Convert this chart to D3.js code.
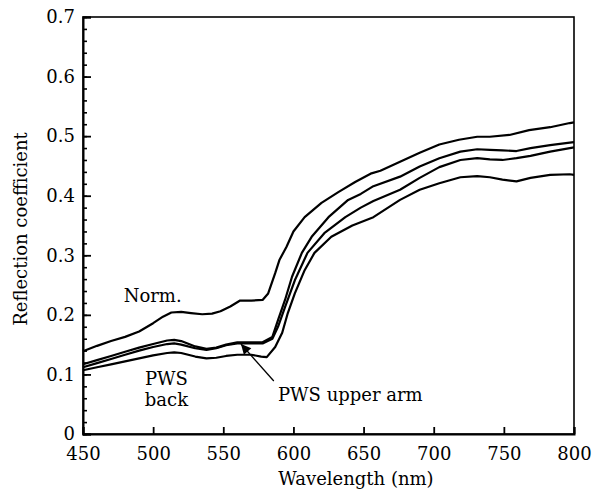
<!DOCTYPE html>
<html>
<head>
<meta charset="utf-8">
<script src="https://cdn.jsdelivr.net/npm/d3@7"></script>
<style>
body{margin:0;background:#fff;}
text{font-family:"DejaVu Serif",serif;fill:#000;}
</style>
</head>
<body>
<svg id="chart" width="595" height="493"></svg>
<script>
// spectra
var normX=[450,460,470,480,490,500,507,513,520,527,535,542,548,555,562,570,578,582,587,590,595,600,608,620,632,644,655,662,676,690,704,718,731,740,754,768,783,797,800];
var normY=[0.139,0.148,0.156,0.163,0.172,0.186,0.197,0.204,0.205,0.203,0.201,0.202,0.206,0.214,0.224,0.224,0.225,0.236,0.27,0.292,0.314,0.34,0.364,0.388,0.406,0.423,0.437,0.442,0.457,0.472,0.486,0.494,0.499,0.499,0.502,0.51,0.515,0.522,0.523];

var pwsAX=[450,460,470,480,490,500,510,515,520,530,538,545,552,560,570,578,585,589,594,599,606,613,625,639,648,657,676,690,704,719,731,740,749,759,769,783,797,800];
var pwsAY=[0.117,0.124,0.131,0.138,0.145,0.151,0.157,0.158,0.156,0.147,0.143,0.145,0.150,0.154,0.154,0.154,0.163,0.191,0.225,0.264,0.304,0.331,0.364,0.393,0.403,0.416,0.432,0.449,0.463,0.474,0.478,0.477,0.476,0.475,0.480,0.485,0.489,0.490];

var pwsBX=[450,460,470,480,490,500,510,515,520,530,538,545,552,560,570,578,585,589,594,601,610,622,637,648,657,676,690,704,719,731,740,749,759,769,783,797,800];
var pwsBY=[0.112,0.119,0.126,0.133,0.140,0.146,0.151,0.152,0.150,0.144,0.141,0.144,0.149,0.152,0.152,0.152,0.160,0.180,0.213,0.258,0.304,0.337,0.364,0.380,0.391,0.410,0.430,0.448,0.460,0.463,0.461,0.460,0.463,0.467,0.474,0.480,0.481];

var pwsCX=[450,460,470,480,490,500,510,515,520,530,538,545,552,560,570,577,581,587,592,596,601,608,615,627,642,657,676,690,704,719,731,740,749,759,769,783,797,800];
var pwsCY=[0.107,0.112,0.117,0.122,0.127,0.132,0.136,0.137,0.136,0.130,0.127,0.128,0.131,0.133,0.133,0.130,0.129,0.146,0.170,0.203,0.236,0.275,0.304,0.331,0.350,0.364,0.393,0.410,0.421,0.431,0.433,0.431,0.427,0.424,0.430,0.435,0.436,0.435];

var xTicks=[450,500,550,600,650,700,750,800];
var yTicks=[0,0.1,0.2,0.3,0.4,0.5,0.6,0.7];

var svg=d3.select('#chart');
var margin={left:83,top:17,right:21,bottom:59};
var width=595-margin.left-margin.right;
var height=493-margin.top-margin.bottom;
var g=svg.append('g').attr('transform',`translate(${margin.left},${margin.top})`);

var x=d3.scaleLinear().domain([450,800]).range([0,width]);
var y=d3.scaleLinear().domain([0,0.7]).range([height,0]);

// frame
g.append('rect').attr('width',width).attr('height',height)
    .attr('fill','none').attr('stroke','#000').attr('stroke-width',1.6);

// minor y ticks
g.append('g').call(d3.axisLeft(y).tickValues(d3.range(0,0.7001,0.02)).tickSize(-4).tickFormat(''))
    .call(a=>a.select('.domain').remove())
    .selectAll('line').attr('stroke','#000').attr('stroke-width',1.6);

var yAxis=g.append('g').call(d3.axisLeft(y).tickValues(yTicks).tickSize(-8).tickPadding(8)
    .tickFormat(d=>d===0?'0':d3.format('.1f')(d)));
yAxis.select('.domain').attr('stroke-width',2);
yAxis.selectAll('line').attr('stroke-width',1.8);
yAxis.selectAll('text').style('font-size','18px').style('font-family','DejaVu Serif');

var xAxis=g.append('g').attr('transform',`translate(0,${height})`)
    .call(d3.axisBottom(x).tickValues(xTicks).tickSize(-7).tickPadding(13));
xAxis.select('.domain').attr('stroke-width',2);
xAxis.selectAll('line').attr('stroke-width',1.8);
xAxis.selectAll('text').style('font-size','18px').style('font-family','DejaVu Serif');

// curves
var line=d3.line().x(d=>x(d[0])).y(d=>y(d[1]));
[[normX,normY],[pwsAX,pwsAY],[pwsBX,pwsBY],[pwsCX,pwsCY]].forEach(function(s) {
    g.append('path').datum(d3.zip(s[0],s[1])).attr('d',line)
        .attr('fill','none').attr('stroke','#000').attr('stroke-width',2.2)
        .attr('stroke-linejoin','round');
});

// labels
g.append('text').attr('x',x(479)).attr('y',y(0.222)).style('font-size','18px').text('Norm.');
g.append('text').attr('x',x(509.5)).attr('y',y(0.082)).attr('text-anchor','middle').style('font-size','18px').text('PWS');
g.append('text').attr('x',x(509.5)).attr('y',y(0.047)).attr('text-anchor','middle').style('font-size','18px').text('back');
g.append('text').attr('x',x(589)).attr('y',y(0.055)).style('font-size','18px').text('PWS upper arm');

// arrow
svg.append('defs').append('marker').attr('id','head').attr('viewBox','0 0 10 10')
    .attr('refX',10).attr('refY',5).attr('markerWidth',14).attr('markerHeight',10)
    .attr('markerUnits','userSpaceOnUse').attr('orient','auto')
    .append('path').attr('d','M0,0L10,5L0,10Z').attr('fill','#000');
g.append('line').attr('x1',x(586)).attr('y1',y(0.089)).attr('x2',x(562.6)).attr('y2',y(0.151))
    .attr('stroke','#000').attr('stroke-width',1.3).attr('marker-end','url(#head)');

// axis titles
svg.append('text').attr('x',356).attr('y',485).attr('text-anchor','middle').style('font-size','18px')
    .text('Wavelength (nm)');
svg.append('text').attr('transform','translate(27,229) rotate(-90)').attr('text-anchor','middle')
    .style('font-size','18px').text('Reflection coefficient');
</script>
</body>
</html>
